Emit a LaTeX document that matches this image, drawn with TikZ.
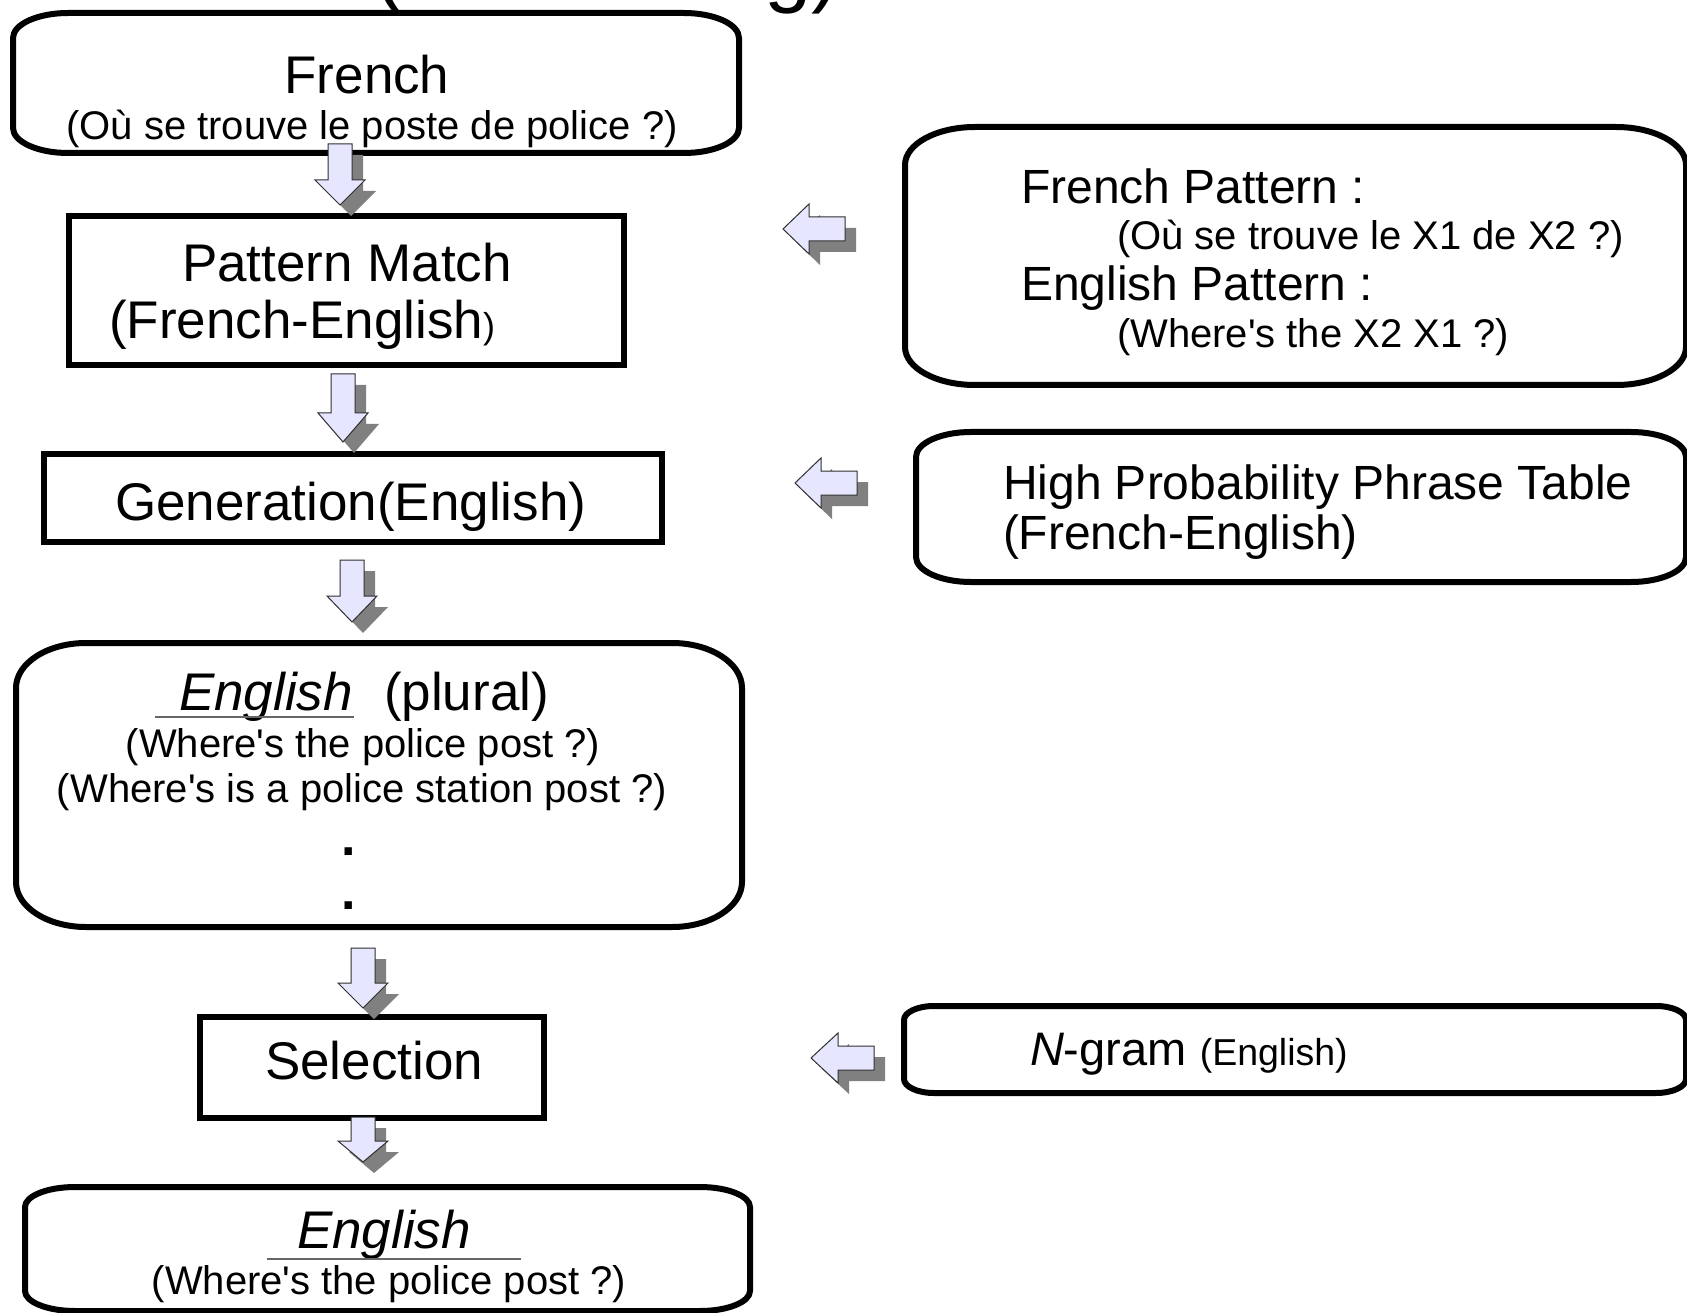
\documentclass[tikz,border=0pt]{standalone}
\usepackage{fontspec}
\setmainfont{Liberation Sans}
\definecolor{arrfill}{HTML}{E6E6FF}
\definecolor{shad}{HTML}{808080}
\definecolor{arrline}{HTML}{303030}
\newcommand\FS[1]{\fontsize{#1}{#1}\selectfont}
\newcommand\Q{\textquotesingle}
\tikzset{
  rbox/.style={draw=black, line width=6pt, line join=round, fill=white},
  sbox/.style={draw=black, line width=6pt, fill=white, inner sep=0pt},
  txt/.style={inner sep=0pt, outer sep=0pt},
  arrbody/.style={fill=arrfill, draw=arrline, line width=1pt, line join=miter},
  arrshadow/.style={fill=shad},
  uline/.style={draw=gray!80!black, line width=1.5pt}
}
\newcommand\RBox[7]{% name x1 y1 x2 y2 rx ry
  \draw[rbox] ({#2+#6},#3) -- ({#4-#6},#3)
    .. controls ({#4-0.448*#6},#3) and (#4,{#3+0.448*#7}) .. (#4,{#3+#7})
    -- (#4,{#5-#7})
    .. controls (#4,{#5-0.448*#7}) and ({#4-0.448*#6},#5) .. ({#4-#6},#5)
    -- ({#2+#6},#5)
    .. controls ({#2+0.448*#6},#5) and (#2,{#5-0.448*#7}) .. (#2,{#5-#7})
    -- (#2,{#3+#7})
    .. controls (#2,{#3+0.448*#7}) and ({#2+0.448*#6},#3) .. ({#2+#6},#3) -- cycle;
  \node[txt, minimum width={(#4-#2)*1pt}, minimum height={(#5-#3)*1pt}] (#1) at ({(#2+#4)/2},{(#3+#5)/2}) {};}
\newcommand\SBox[5]{% name x1 y1 x2 y2
  \node[sbox, minimum width={(#4-#2)*1pt}, minimum height={(#5-#3)*1pt}] (#1) at ({(#2+#4)/2},{(#3+#5)/2}) {};}
\newcommand\DArrow[4]{% cx top base tip
  \fill[arrshadow] ({#1-1},{#2+11}) -- ({#1+23},{#2+11}) -- ({#1+23},{#3+11}) -- ({#1+36},{#3+11}) -- ({#1+11},{#4+11}) -- ({#1-14},{#3+11}) -- ({#1-1},{#3+11}) -- cycle;
  \filldraw[arrbody] ({#1-12},#2) -- ({#1+12},#2) -- ({#1+12},#3) -- ({#1+25},#3) -- (#1,#4) -- ({#1-25},#3) -- ({#1-12},#3) -- cycle;}
\newcommand\LArrow[4]{% cy right base tip
  \fill[arrshadow] ({#2+11},{#1-1}) -- ({#2+11},{#1+23}) -- ({#3+11},{#1+23}) -- ({#3+11},{#1+36}) -- ({#4+11},{#1+11}) -- ({#3+11},{#1-14}) -- ({#3+11},{#1-1}) -- cycle;
  \filldraw[arrbody] (#2,{#1-12}) -- (#2,{#1+12}) -- (#3,{#1+12}) -- (#3,{#1+25}) -- (#4,#1) -- (#3,{#1-25}) -- (#3,{#1-12}) -- cycle;}
\begin{document}
\begin{tikzpicture}[x=1pt,y=-1pt]
\useasboundingbox (0,0) rectangle (1687,1313);
\fill[white] (0,0) rectangle (1687,1313);

% cut-off title fragments
\node[txt, anchor=base west, font=\FS{85}] (tl) at (374,-3) {(};
\node[txt, anchor=base west, font=\FS{85}] (tr) at (764,-3) {g)};

% left column boxes
\RBox{fr}{13}{13}{739}{153}{55}{25}
\SBox{pm}{69}{216}{624}{365}
\SBox{gen}{44}{454}{662}{542}
\RBox{plu}{16}{643}{742}{927}{70}{45}
\SBox{sel}{200}{1017}{544}{1118}
\RBox{out}{25}{1187}{750}{1311}{50}{20}

% right column boxes
\RBox{pat}{905}{127}{1686}{385}{70}{38}
\RBox{tab}{916}{432}{1686}{582}{55}{25}
\RBox{ngr}{904}{1006}{1686}{1093}{30}{14}

% texts
\node[txt, anchor=base, font=\FS{53}] (frA) at (367,94) {French};
\node[txt, anchor=base, font=\FS{40}] (frB) at (372,140) {(Où se trouve le poste de police ?)};

\node[txt, anchor=base, font=\FS{53}] (pmA) at (347,282) {Pattern Match};
\node[txt, anchor=base west, font=\FS{53}] (pmB) at (109,339) {(French-English\FS{36})};

\node[txt, anchor=base west, font=\FS{53}] (genA) at (115,520) {Generation(English)};

\node[txt, anchor=base west, font=\FS{53}\itshape] (pluA) at (179,710) {English};
\node[txt, anchor=base west, font=\FS{53}] (pluB) at (384,710) {(plural)};
\draw[uline] (155,717) -- (354,717);
\node[txt, anchor=base, font=\FS{40}] (pluC) at (363,757) {(Where\Q s the police post ?)};
\node[txt, anchor=base, font=\FS{40}] (pluD) at (362,802) {(Where\Q s is a police station post ?)};
\node[txt, anchor=base, font=\FS{52}\bfseries] (pluE) at (349,855) {.};
\node[txt, anchor=base, font=\FS{52}\bfseries] (pluF) at (349,909) {.};

\node[txt, anchor=base west, font=\FS{53}] (selA) at (265,1079) {Selection};

\node[txt, anchor=base west, font=\FS{53}\itshape] (outA) at (297,1248) {English};
\draw[uline] (267,1259) -- (521,1259);
\node[txt, anchor=base, font=\FS{40}] (outB) at (389,1294) {(Where\Q s the police post ?)};

\node[txt, anchor=base west, font=\FS{48}] (patA) at (1021,204) {French Pattern :};
\node[txt, anchor=base west, font=\FS{40}] (patB) at (1117,250) {(Où se trouve le X1 de X2 ?)};
\node[txt, anchor=base west, font=\FS{48}] (patC) at (1021,301) {English Pattern :};
\node[txt, anchor=base west, font=\FS{40}] (patD) at (1117,348) {(Where\Q s the X2 X1 ?)};

\node[txt, anchor=base west, font=\FS{48}] (tabA) at (1003,499) {High Probability Phrase Table};
\node[txt, anchor=base west, font=\FS{48}] (tabB) at (1003,549) {(French-English)};

\node[txt, anchor=base west, font=\FS{47}] (ngrA) at (1030,1065) {\textit{N}-gram \FS{37.5}(English)};

% block arrows
\DArrow{340}{144}{180}{205}
\DArrow{343}{374}{413}{442}
\DArrow{352}{560}{596}{622}
\DArrow{363}{948}{983}{1008}
\DArrow{363}{1117}{1141}{1162}

\LArrow{229}{845}{809}{783}
\LArrow{483}{857}{821}{795}
\LArrow{1058}{874}{838}{811}
\end{tikzpicture}
\end{document}
